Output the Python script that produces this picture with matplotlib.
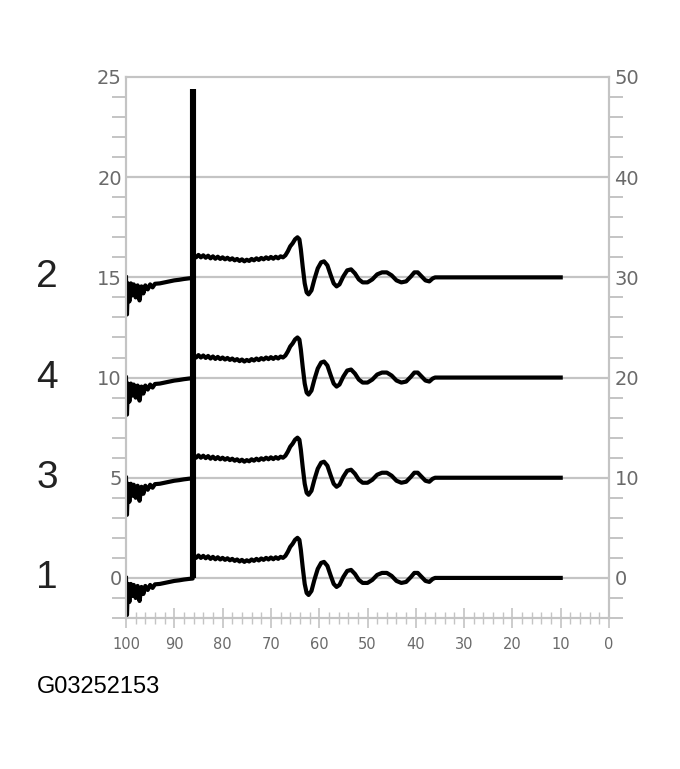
import matplotlib
matplotlib.use("Agg")
import matplotlib.pyplot as plt
from matplotlib.ticker import MultipleLocator
from matplotlib.transforms import blended_transform_factory

# ---- data ----
trace_x = [100.0, 99.8, 99.6, 99.3, 99.0, 98.7, 98.4, 98.0, 97.6, 97.2, 96.8, 96.4, 96.0, 95.5,
           95.0, 94.5, 94.0, 93.0, 92.0, 91.0, 90.0, 89.0, 88.0, 87.0, 86.2,
           86.1, 85.5, 85.0, 84.5, 84.0, 83.5, 83.0, 82.5, 82.0, 81.5, 81.0, 80.5, 80.0, 79.5,
           79.0, 78.5, 78.0, 77.5, 77.0, 76.5, 76.0, 75.5, 75.0, 74.5, 74.0, 73.5, 73.0, 72.5,
           72.0, 71.5, 71.0, 70.5, 70.0, 69.5, 69.0, 68.5, 68.0, 67.5, 67.0,
           66.5, 66.0, 65.5, 65.0, 64.5, 64.1, 63.8, 63.4, 63.0, 62.6, 62.2, 61.6, 61.0, 60.3,
           59.6, 59.0, 58.3, 57.6, 57.0, 56.4, 55.8, 55.0, 54.2, 53.4, 52.6, 51.8, 51.0, 50.0,
           49.0, 48.0, 47.0, 46.0, 45.0, 44.0, 43.0, 42.0, 41.0, 40.3, 39.6, 38.8, 38.0, 37.2,
           36.5, 36.0, 10.0]
trace_y = [0.0, -1.85, -0.3, -1.2, -0.3, -0.9, -0.35, -1.0, -0.4, -1.15, -0.45, -0.8, -0.4, -0.6,
           -0.35, -0.5, -0.32, -0.3, -0.25, -0.2, -0.15, -0.12, -0.08, -0.05, -0.03,
           1.1, 1.0, 1.12, 1.0, 1.1, 0.98, 1.08, 0.95, 1.05, 0.93, 1.03, 0.92, 1.0, 0.9,
           0.98, 0.88, 0.95, 0.85, 0.92, 0.82, 0.9, 0.8, 0.88, 0.82, 0.92, 0.85, 0.95, 0.87,
           0.97, 0.9, 1.0, 0.92, 1.02, 0.93, 1.03, 0.95, 1.05, 1.0, 1.1,
           1.3, 1.55, 1.7, 1.9, 2.0, 1.9, 1.4, 0.5, -0.3, -0.75, -0.85, -0.65, -0.1, 0.45,
           0.75, 0.8, 0.6, 0.1, -0.3, -0.45, -0.35, 0.05, 0.35, 0.4, 0.2, -0.1, -0.25, -0.25,
           -0.1, 0.15, 0.25, 0.25, 0.1, -0.15, -0.25, -0.2, 0.05, 0.25, 0.25, 0.05, -0.15, -0.2,
           -0.05, 0.0, 0.0]
trace_offsets = [0, 5, 10, 15]
trace_labels = ["1", "3", "4", "2"]
spike_x = 86.1
spike_top = 24.4
left_ticks = [0, 5, 10, 15, 20, 25]
right_ticks = [0, 10, 20, 30, 40, 50]
x_ticks = [100, 90, 80, 70, 60, 50, 40, 30, 20, 10, 0]
figure_code = "G03252153"

GRAY = "#c4c4c4"
LBL = "#6a6a6a"

fig = plt.figure(figsize=(6.8, 7.69), dpi=100)
ax = fig.add_axes([126 / 680, 151 / 769, 483 / 680, 541 / 769])
ax.set_xlim(100, 0)
ax.set_ylim(-2, 25)

for sp in ax.spines.values():
    sp.set_color(GRAY)
    sp.set_linewidth(1.5)

# grid lines
for g in [0, 5, 10, 15, 20]:
    ax.axhline(g, color=GRAY, lw=1.6, zorder=1)

# traces
for off in trace_offsets:
    ax.plot(trace_x, [v + off for v in trace_y], color="black", lw=3.0,
            solid_joinstyle="round", zorder=3)
ax.vlines(spike_x, 0, spike_top, color="black", lw=4.4, zorder=4)

# x axis
ax.set_xticks(x_ticks)
ax.set_xticklabels([str(t) for t in x_ticks])
ax.xaxis.set_minor_locator(MultipleLocator(2))
ax.tick_params(axis="x", which="major", direction="inout", length=14, width=1.2,
               color=GRAY, labelcolor=LBL, labelsize=10.5, pad=7)
ax.tick_params(axis="x", which="minor", direction="inout", length=8, width=1.0, color=GRAY)

# left y axis
ax.set_yticks(left_ticks)
ax.set_yticklabels([str(t) for t in left_ticks])
ax.yaxis.set_minor_locator(MultipleLocator(1))
ax.tick_params(axis="y", which="major", direction="out", length=0, color=GRAY,
               labelcolor=LBL, labelsize=14, pad=3)
ax.tick_params(axis="y", which="minor", direction="out", length=10, width=1.4, color=GRAY)

# right y axis
ax2 = ax.twinx()
ax2.set_ylim(-4, 50)
ax2.set_yticks(right_ticks)
ax2.set_yticklabels([str(t) for t in right_ticks])
ax2.yaxis.set_minor_locator(MultipleLocator(2))
ax2.tick_params(axis="y", which="major", direction="out", length=0, color=GRAY,
                labelcolor=LBL, labelsize=14, pad=4)
ax2.tick_params(axis="y", which="minor", direction="out", length=10, width=1.4, color=GRAY)
for sp in ax2.spines.values():
    sp.set_color(GRAY)
    sp.set_linewidth(1.5)

# channel labels
tr = blended_transform_factory(fig.transFigure, ax.transData)
for off, lab in zip(trace_offsets, trace_labels):
    fig.text(47 / 680, off, lab, transform=tr, ha="center", va="center",
             fontsize=28, color="#222222", family="Liberation Sans")

fig.text(37 / 680, 1 - 693 / 769, figure_code, ha="left", va="baseline",
         fontsize=17, color="black", family="Liberation Sans")

fig.savefig("out.png", dpi=100, facecolor="white")
